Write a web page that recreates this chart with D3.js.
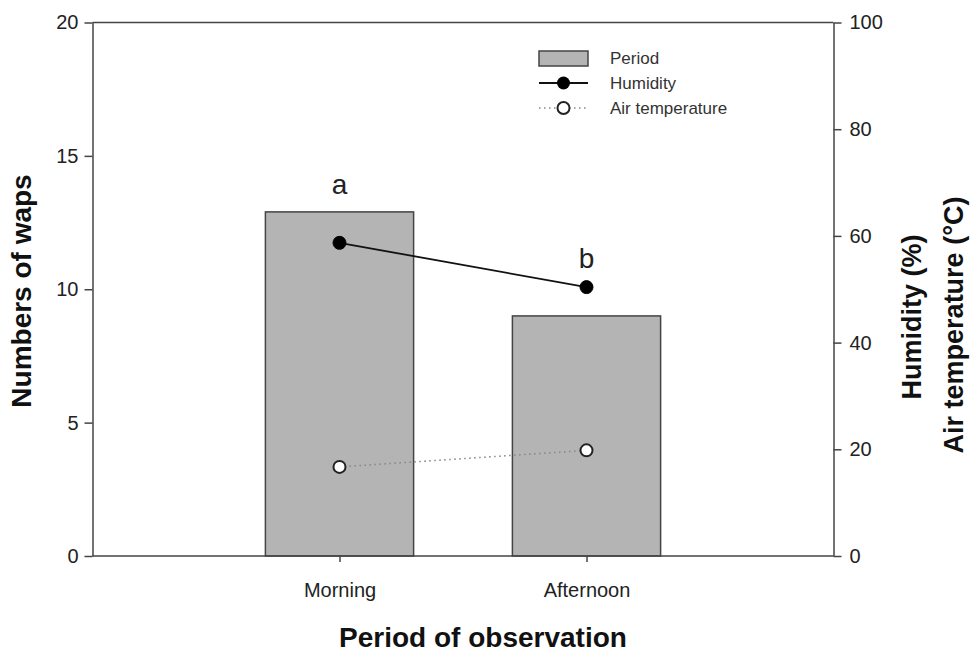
<!DOCTYPE html>
<html>
<head>
<meta charset="utf-8">
<script src="https://cdn.jsdelivr.net/npm/d3@7"></script>
<style>
  html, body { margin: 0; padding: 0; background: #fff; }
  svg { display: block; font-family: "Liberation Sans", Arial, sans-serif; }
</style>
</head>
<body>
<svg id="chart" width="971" height="656"></svg>
<script>
// ---- data ----
const categories = ["Morning", "Afternoon"];
const waspCounts = [12.9, 9.0];
const humidity = [58.7, 50.4];
const airTemperature = [16.7, 19.8];
const significance = ["a", "b"];
const leftTicks = [0, 5, 10, 15, 20];
const rightTicks = [0, 20, 40, 60, 80, 100];
const legendItems = ["Period", "Humidity", "Air temperature"];

// ---- layout ----
const plot = { left: 92.5, right: 833.5, top: 22.5, bottom: 556 };
const svg = d3.select("#chart");

const x = d3.scalePoint().domain(categories).range([plot.left, plot.right]).padding(1);
const yL = d3.scaleLinear().domain([0, 20]).range([plot.bottom, plot.top]);
const yR = d3.scaleLinear().domain([0, 100]).range([plot.bottom, plot.top]);
const barW = x.step() * 0.6;

const axisColor = "#444";
const textColor = "#222";

// frame top line
svg.append("line")
  .attr("x1", plot.left).attr("x2", plot.right)
  .attr("y1", plot.top).attr("y2", plot.top)
  .attr("stroke", axisColor).attr("stroke-width", 1.5);

// bars
svg.append("g").selectAll("rect").data(categories).join("rect")
  .attr("x", d => x(d) - barW / 2)
  .attr("width", barW)
  .attr("y", (d, i) => yL(waspCounts[i]))
  .attr("height", (d, i) => yL(0) - yL(waspCounts[i]))
  .attr("fill", "#b4b4b4")
  .attr("stroke", axisColor)
  .attr("stroke-width", 1.5);

// axes
const styleAxis = g => {
  g.select(".domain").attr("stroke", axisColor).attr("stroke-width", 1.5);
  g.selectAll(".tick line").attr("stroke", axisColor).attr("stroke-width", 1.5);
  g.selectAll(".tick text").attr("fill", textColor).style("font-size", "20px")
    .style("font-family", "'Liberation Sans', Arial, sans-serif");
};

svg.append("g")
  .attr("transform", `translate(${plot.left},0)`)
  .call(d3.axisLeft(yL).tickValues(leftTicks).tickSize(8).tickPadding(6).tickSizeOuter(0))
  .call(styleAxis);

svg.append("g")
  .attr("transform", `translate(${plot.right},0)`)
  .call(d3.axisRight(yR).tickValues(rightTicks).tickSize(8).tickPadding(8).tickSizeOuter(0))
  .call(styleAxis);

const xAxisG = svg.append("g")
  .attr("transform", `translate(0,${plot.bottom})`)
  .call(d3.axisBottom(x).tickSize(6).tickPadding(21).tickSizeOuter(0))
  .call(styleAxis);
xAxisG.select(".domain").attr("d", `M${plot.left},0H${plot.right}`);

// humidity line
const lineH = d3.line().x((d, i) => x(categories[i])).y(d => yR(d));
svg.append("path").datum(humidity)
  .attr("d", lineH).attr("fill", "none").attr("stroke", "#111").attr("stroke-width", 1.8);
svg.append("g").selectAll("circle").data(humidity).join("circle")
  .attr("cx", (d, i) => x(categories[i])).attr("cy", d => yR(d))
  .attr("r", 6.5).attr("fill", "#000").attr("stroke", "#000");

// air temperature line
svg.append("path").datum(airTemperature)
  .attr("d", lineH).attr("fill", "none").attr("stroke", "#888").attr("stroke-width", 1.6)
  .attr("stroke-dasharray", "1.5,3.5");
svg.append("g").selectAll("circle").data(airTemperature).join("circle")
  .attr("cx", (d, i) => x(categories[i])).attr("cy", d => yR(d))
  .attr("r", 6).attr("fill", "#fff").attr("stroke", "#222").attr("stroke-width", 2);

// significance letters
svg.append("g").selectAll("text").data(significance).join("text")
  .attr("x", (d, i) => x(categories[i]))
  .attr("y", (d, i) => i === 0 ? yL(waspCounts[i]) - 18 : yR(humidity[i]) - 19)
  .attr("text-anchor", "middle")
  .attr("fill", textColor)
  .style("font-size", "28px")
  .text(d => d);

// axis titles
svg.append("text")
  .attr("transform", `translate(31,291) rotate(-90)`)
  .attr("text-anchor", "middle")
  .attr("fill", "#111")
  .style("font-size", "28px").style("font-weight", "bold")
  .text("Numbers of waps");

svg.append("text")
  .attr("transform", `translate(921,317) rotate(-90)`)
  .attr("text-anchor", "middle")
  .attr("fill", "#111")
  .style("font-size", "27px").style("font-weight", "bold")
  .text("Humidity (%)");

svg.append("text")
  .attr("transform", `translate(963,325) rotate(-90)`)
  .attr("text-anchor", "middle")
  .attr("fill", "#111")
  .style("font-size", "27px").style("font-weight", "bold")
  .text("Air temperature (°C)");

svg.append("text")
  .attr("x", 483)
  .attr("y", 647)
  .attr("text-anchor", "middle")
  .attr("fill", "#111")
  .style("font-size", "28px").style("font-weight", "bold")
  .text("Period of observation");

// legend
const lg = svg.append("g");
const lx0 = 539, lx1 = 588, ltx = 610;
const rows = [58, 83, 108];
lg.append("rect").attr("x", lx0).attr("y", rows[0] - 7).attr("width", lx1 - lx0).attr("height", 15)
  .attr("fill", "#b4b4b4").attr("stroke", axisColor).attr("stroke-width", 1.5);
lg.append("line").attr("x1", lx0).attr("x2", lx1).attr("y1", rows[1]).attr("y2", rows[1])
  .attr("stroke", "#111").attr("stroke-width", 1.8);
lg.append("circle").attr("cx", (lx0 + lx1) / 2).attr("cy", rows[1]).attr("r", 6.5).attr("fill", "#000");
lg.append("line").attr("x1", lx0).attr("x2", lx1).attr("y1", rows[2]).attr("y2", rows[2])
  .attr("stroke", "#888").attr("stroke-width", 1.6).attr("stroke-dasharray", "1.5,3.5");
lg.append("circle").attr("cx", (lx0 + lx1) / 2).attr("cy", rows[2]).attr("r", 6)
  .attr("fill", "#fff").attr("stroke", "#222").attr("stroke-width", 2);
lg.selectAll("text").data(legendItems).join("text")
  .attr("x", ltx).attr("y", (d, i) => rows[i]).attr("dy", "0.35em")
  .attr("fill", "#333").style("font-size", "17px")
  .text(d => d);
</script>
</body>
</html>
